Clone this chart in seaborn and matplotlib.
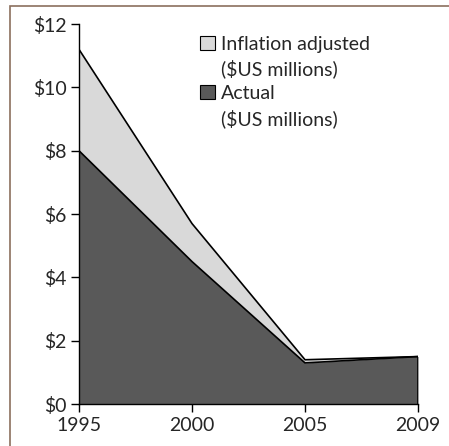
import numpy as np
import pandas as pd
import matplotlib
matplotlib.use('Agg')
import matplotlib.pyplot as plt
import seaborn as sns
from matplotlib.patches import Patch, Rectangle

# data
years = ['1995', '2000', '2005', '2009']
inflation_adjusted = [11.2, 5.7, 1.4, 1.5]
actual = [8.0, 4.5, 1.3, 1.5]
y_ticks = [0, 2, 4, 6, 8, 10, 12]

sns.set_style('white')
plt.rcParams['font.family'] = ['Lato', 'DejaVu Sans']

df = pd.DataFrame({'pos': np.arange(len(years)),
                   'inflation': inflation_adjusted,
                   'actual': actual})

fig = plt.figure(figsize=(4.49, 4.46), dpi=100)
ax = fig.add_axes([0.176, 0.094, 0.755, 0.852])

ax.fill_between(df['pos'], 0, df['inflation'], color='#D9D9D9', lw=0)
ax.fill_between(df['pos'], 0, df['actual'], color='#595959', lw=0)
sns.lineplot(data=df, x='pos', y='inflation', color='black', lw=1.2, ax=ax)
sns.lineplot(data=df, x='pos', y='actual', color='black', lw=1.2, ax=ax)
ax.plot([3, 3], [0, actual[-1]], color='black', lw=1.2)

ax.set_xlim(0, 3)
ax.set_ylim(0, 12)
ax.set_xticks(df['pos'])
ax.set_xticklabels(years)
ax.set_yticks(y_ticks)
ax.set_yticklabels([f'${v}' for v in y_ticks])
ax.set_xlabel('')
ax.set_ylabel('')
for s in ['top', 'right']:
    ax.spines[s].set_visible(False)
for s in ['left', 'bottom']:
    ax.spines[s].set_color('black')
    ax.spines[s].set_linewidth(1.0)
ax.tick_params(axis='both', direction='out', length=6, width=1, color='black',
               labelsize=14, pad=3, left=True, bottom=True)

blank = Patch(facecolor='none', edgecolor='none')
handles = [Patch(facecolor='#D9D9D9', edgecolor='black', lw=0.8), blank,
           Patch(facecolor='#595959', edgecolor='black', lw=0.8), blank]
labels = ['Inflation adjusted', '($US millions)', 'Actual', '($US millions)']
ax.legend(handles=handles, labels=labels, loc='upper left',
          bbox_to_anchor=(0.335, 0.99), frameon=False, fontsize=14,
          handlelength=0.75, handleheight=0.75, handletextpad=0.3,
          labelspacing=0.35, borderaxespad=0)

fig.patches.append(Rectangle((10 / 449, -0.1), 1.2, 1.1 - 6 / 446,
                             transform=fig.transFigure, fill=False,
                             edgecolor='#8B6F5E', lw=1.2))

fig.savefig('out.png', dpi=100)
